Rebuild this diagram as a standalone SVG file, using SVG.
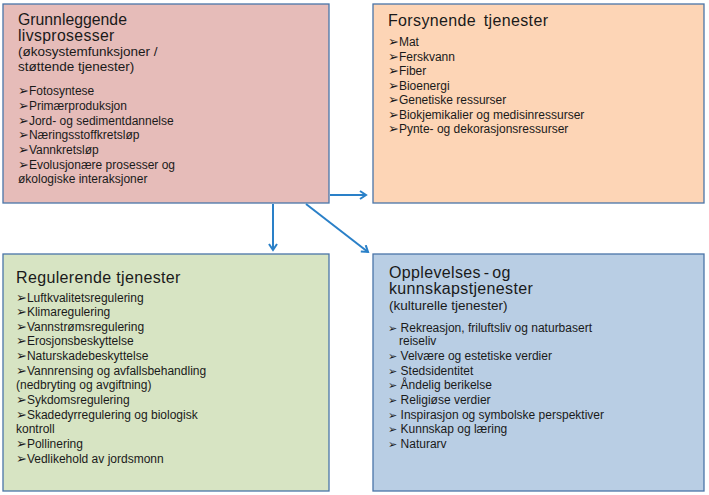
<svg xmlns="http://www.w3.org/2000/svg" width="709" height="495" viewBox="0 0 709 495">
<defs>
<style>
.box{stroke:#4a75a8;stroke-width:1.3}
.t{font-family:"Liberation Sans","DejaVu Sans",sans-serif;fill:#1a1a1a}
.h{font-size:16px;letter-spacing:0.35px}
.s{font-size:13.5px}
.i{font-size:12px}
.b{font-family:"DejaVu Sans",sans-serif;font-size:13px}
.b2{font-family:"DejaVu Sans",sans-serif;font-size:11px}
.c{stroke:#2a80c8;stroke-width:2;fill:none}
</style>
<marker id="ah" markerWidth="10" markerHeight="10" refX="8" refY="5" orient="auto" markerUnits="userSpaceOnUse">
<path d="M2,1 L8,5 L2,9" fill="none" stroke="#2a80c8" stroke-width="2"/>
</marker>
</defs>
<rect width="709" height="495" fill="#ffffff"/>
<g id="grunnleggende">
<rect class="box" x="3" y="4" width="326" height="199" fill="#e6bcb9"/>
<text class="t h" x="18" y="25" style="letter-spacing:0px;font-size:15.8px">Grunnleggende</text>
<text class="t h" x="18" y="40.5" style="font-size:15.8px">livsprosesser</text>
<text class="t s" x="18" y="56">(økosystemfunksjoner /</text>
<text class="t s" x="18" y="71">støttende tjenester)</text>
<text class="t i" x="18" y="95"><tspan class="b">➢</tspan>Fotosyntese</text>
<text class="t i" x="18" y="110"><tspan class="b">➢</tspan>Primærproduksjon</text>
<text class="t i" x="18" y="124.5"><tspan class="b">➢</tspan>Jord- og sedimentdannelse</text>
<text class="t i" x="18" y="139"><tspan class="b">➢</tspan>Næringsstoffkretsløp</text>
<text class="t i" x="18" y="154"><tspan class="b">➢</tspan>Vannkretsløp</text>
<text class="t i" x="18" y="168.5"><tspan class="b">➢</tspan>Evolusjonære prosesser og</text>
<text class="t i" x="18" y="183">økologiske interaksjoner</text>
</g>
<g id="forsynende">
<rect class="box" x="373" y="4" width="331" height="199" fill="#fdd5b6"/>
<text class="t h" x="388" y="26" style="word-spacing:3px">Forsynende tjenester</text>
<text class="t i" x="388" y="46"><tspan class="b">➢</tspan>Mat</text>
<text class="t i" x="388" y="60.5"><tspan class="b">➢</tspan>Ferskvann</text>
<text class="t i" x="388" y="75"><tspan class="b">➢</tspan>Fiber</text>
<text class="t i" x="388" y="89.5"><tspan class="b">➢</tspan>Bioenergi</text>
<text class="t i" x="388" y="104"><tspan class="b">➢</tspan>Genetiske ressurser</text>
<text class="t i" x="388" y="118.5"><tspan class="b">➢</tspan>Biokjemikalier og medisinressurser</text>
<text class="t i" x="388" y="133"><tspan class="b">➢</tspan>Pynte- og dekorasjonsressurser</text>
</g>
<g id="regulerende">
<rect class="box" x="3" y="254" width="326" height="237" fill="#d7e4c3"/>
<text class="t h" x="16" y="283">Regulerende tjenester</text>
<text class="t i" x="16" y="301.5"><tspan class="b">➢</tspan>Luftkvalitetsregulering</text>
<text class="t i" x="16" y="316"><tspan class="b">➢</tspan>Klimaregulering</text>
<text class="t i" x="16" y="330.7"><tspan class="b">➢</tspan>Vannstrømsregulering</text>
<text class="t i" x="16" y="345.3"><tspan class="b">➢</tspan>Erosjonsbeskyttelse</text>
<text class="t i" x="16" y="360"><tspan class="b">➢</tspan>Naturskadebeskyttelse</text>
<text class="t i" x="16" y="374.6"><tspan class="b">➢</tspan>Vannrensing og avfallsbehandling</text>
<text class="t i" x="16" y="389.3">(nedbryting og avgiftning)</text>
<text class="t i" x="16" y="404"><tspan class="b">➢</tspan>Sykdomsregulering</text>
<text class="t i" x="16" y="418.6"><tspan class="b">➢</tspan>Skadedyrregulering og biologisk</text>
<text class="t i" x="16" y="433.3">kontroll</text>
<text class="t i" x="16" y="448"><tspan class="b">➢</tspan>Pollinering</text>
<text class="t i" x="16" y="462.6"><tspan class="b">➢</tspan>Vedlikehold av jordsmonn</text>
</g>
<g id="opplevelses">
<rect class="box" x="373" y="254" width="331" height="237" fill="#b9cee4"/>
<text class="t h" x="389" y="278" style="word-spacing:-2px">Opplevelses - og</text>
<text class="t h" x="389" y="294">kunnskapstjenester</text>
<text class="t s" x="389" y="310">(kulturelle tjenester)</text>
<text class="t i" x="388" y="332"><tspan class="b2">➢</tspan> Rekreasjon, friluftsliv og naturbasert</text>
<text class="t i" x="399" y="345">reiseliv</text>
<text class="t i" x="388" y="360"><tspan class="b2">➢</tspan> Velvære og estetiske verdier</text>
<text class="t i" x="388" y="374.5"><tspan class="b2">➢</tspan> Stedsidentitet</text>
<text class="t i" x="388" y="389"><tspan class="b2">➢</tspan> Åndelig berikelse</text>
<text class="t i" x="388" y="404"><tspan class="b2">➢</tspan> Religiøse verdier</text>
<text class="t i" x="388" y="418.5"><tspan class="b2">➢</tspan> Inspirasjon og symbolske perspektiver</text>
<text class="t i" x="388" y="433"><tspan class="b2">➢</tspan> Kunnskap og læring</text>
<text class="t i" x="388" y="448"><tspan class="b2">➢</tspan> Naturarv</text>
</g>
<g id="connectors">
<line class="c" x1="330" y1="195" x2="366" y2="195" marker-end="url(#ah)"/>
<line class="c" x1="273" y1="204" x2="273" y2="250" marker-end="url(#ah)"/>
<line class="c" x1="306" y1="204" x2="368" y2="252" marker-end="url(#ah)"/>
</g>
</svg>
